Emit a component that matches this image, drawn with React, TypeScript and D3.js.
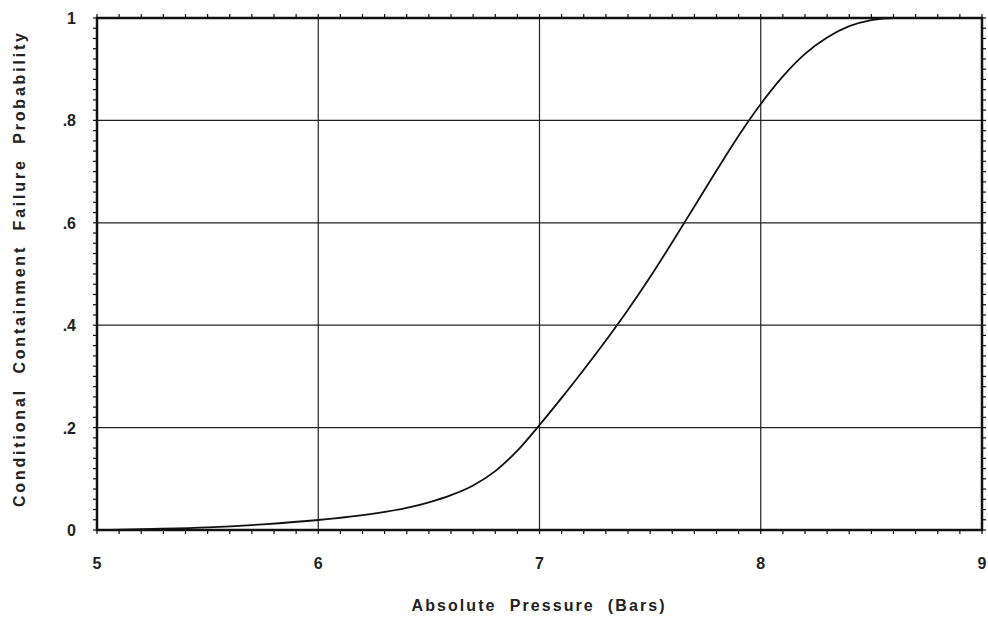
import React from "react";
import * as d3 from "d3";

const pressure = [5.0, 5.25, 5.5, 5.75, 6.0, 6.25, 6.4, 6.5, 6.6, 6.7, 6.8, 6.9, 7.0, 7.1, 7.2, 7.3, 7.4, 7.5, 7.6, 7.7, 7.8, 7.9, 8.0, 8.1, 8.2, 8.3, 8.4, 8.5, 8.6, 8.75, 9.0];
const probability = [0.0, 0.002, 0.005, 0.011, 0.0195, 0.032, 0.043, 0.054, 0.068, 0.087, 0.115, 0.155, 0.205, 0.258, 0.313, 0.37, 0.43, 0.494, 0.562, 0.632, 0.702, 0.77, 0.832, 0.886, 0.93, 0.962, 0.984, 0.996, 1.0, 1.0, 1.0];
const xTicks = [5, 6, 7, 8, 9];
const xTickLabels = ["5", "6", "7", "8", "9"];
const yTicks = [0, 0.2, 0.4, 0.6, 0.8, 1];
const yTickLabels = ["0", ".2", ".4", ".6", ".8", "1"];
const xTitle = "Absolute  Pressure  (Bars)";
const yTitle = "Conditional  Containment  Failure  Probability";

const W = 988, H = 622;
const L = 97, R = 982, T = 18, B = 530;

export default function App() {
  const x = d3.scaleLinear().domain([5, 9]).range([L, R]);
  const y = d3.scaleLinear().domain([0, 1]).range([B, T]);
  const pts: [number, number][] = pressure.map((p, i) => [p, probability[i]]);
  const line = d3.line<[number, number]>().x(d => x(d[0])).y(d => y(d[1])).curve(d3.curveMonotoneX);
  const xMinor = d3.range(5, 9.0001, 0.1);
  const yMinor = d3.range(0, 1.0001, 0.02);
  const font = "Arial, 'Liberation Sans', Helvetica, sans-serif";
  return (
    <svg width={W} height={H} style={{ position: "absolute", left: 0, top: 0, background: "#fff" }}>
      <rect x={0} y={0} width={W} height={H} fill="#fff" />
      {xTicks.slice(1, -1).map(t => (
        <line key={"gx" + t} x1={x(t)} x2={x(t)} y1={T} y2={B} stroke="#222" strokeWidth={1.2} />
      ))}
      {yTicks.slice(1, -1).map(t => (
        <line key={"gy" + t} x1={L} x2={R} y1={y(t)} y2={y(t)} stroke="#222" strokeWidth={1.2} />
      ))}
      {xMinor.map((t, i) => (
        <g key={"mx" + i}>
          <line x1={x(t)} x2={x(t)} y1={B} y2={B + 4} stroke="#111" strokeWidth={1.2} />
          <line x1={x(t)} x2={x(t)} y1={T} y2={T - 4} stroke="#111" strokeWidth={1.2} />
        </g>
      ))}
      {yMinor.map((t, i) => (
        <g key={"my" + i}>
          <line x1={L} x2={L - 4} y1={y(t)} y2={y(t)} stroke="#111" strokeWidth={1.2} />
          <line x1={R} x2={R + 4} y1={y(t)} y2={y(t)} stroke="#111" strokeWidth={1.2} />
        </g>
      ))}
      <rect x={L} y={T} width={R - L} height={B - T} fill="none" stroke="#111" strokeWidth={2.5} />
      <path d={line(pts) || ""} fill="none" stroke="#111" strokeWidth={1.8} />
      {xTicks.map((t, i) => (
        <text key={"xl" + t} x={x(t)} y={569} textAnchor="middle" fontFamily={font} fontWeight="bold" fontSize={16} fill="#222">
          {xTickLabels[i]}
        </text>
      ))}
      {yTicks.map((t, i) => (
        <text key={"yl" + t} x={76} y={y(t) + 6} textAnchor="end" fontFamily={font} fontWeight="bold" fontSize={16} fill="#222">
          {yTickLabels[i]}
        </text>
      ))}
      <text x={538} y={611} textAnchor="middle" fontFamily={font} fontWeight="bold" fontSize={16} fill="#222"
        textLength={253} lengthAdjust="spacing" style={{ whiteSpace: "pre" }}>
        {xTitle}
      </text>
      <text transform={`translate(25,270) rotate(-90)`} textAnchor="middle" fontFamily={font} fontWeight="bold" fontSize={16} fill="#222"
        textLength={474} lengthAdjust="spacing" style={{ whiteSpace: "pre" }}>
        {yTitle}
      </text>
    </svg>
  );
}
